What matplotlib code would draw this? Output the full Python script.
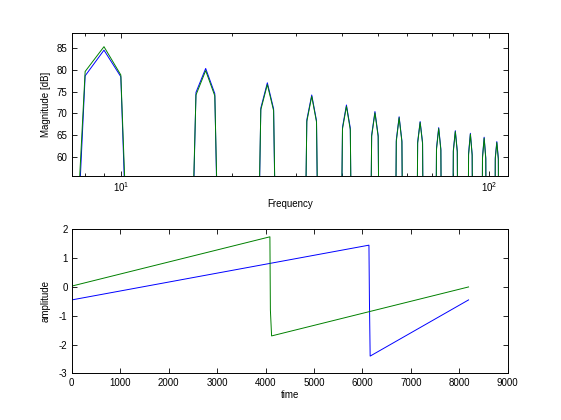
import numpy as np
import matplotlib
matplotlib.use("Agg")
from matplotlib import pyplot as plt

plt.rcParams['font.family'] = ['Liberation Sans', 'DejaVu Sans']
plt.rcParams['font.size'] = 7
plt.rcParams['axes.unicode_minus'] = False
plt.rcParams['mathtext.fontset'] = 'custom'
plt.rcParams['mathtext.rm'] = 'Liberation Sans'

## spectrum: harmonic bins and the dB levels
harmonic_bins = [9, 17, 25, 33, 41, 49, 57, 65, 73, 81, 89, 97, 105]
n_bins = 120

blue_top = [84.5, 80.3, 77.0, 74.2, 71.9, 70.4, 69.2, 68.1, 66.7, 66.0, 65.4, 64.5, 63.5]
blue_left = [78.6, 74.8, 71.2, 68.5, 66.8, 65.0, 63.9, 63.4, 62.0, 61.5, 60.8, 60.0, 59.9]
blue_right = [78.4, 74.5, 71.0, 68.3, 66.6, 64.9, 63.7, 63.3, 61.8, 61.4, 60.6, 59.8, 59.7]
blue_floor = -25.0

green_top = [85.3, 79.8, 76.6, 73.9, 71.6, 70.1, 69.0, 67.9, 66.5, 65.8, 65.2, 64.3, 63.3]
green_left = [79.6, 74.2, 70.8, 68.1, 66.4, 64.7, 63.5, 63.1, 61.6, 61.2, 60.4, 59.6, 59.5]
green_right = [78.8, 74.0, 70.6, 68.0, 66.2, 64.6, 63.4, 63.0, 61.5, 61.1, 60.3, 59.5, 59.4]
green_floor = -15.0

## time signals (sample index, amplitude)
blue_t = [0, 6135, 6145, 6160, 8192]
blue_v = [-0.45, 1.45, -0.45, -2.40, -0.45]
green_t = [0, 4090, 4100, 4125, 8192]
green_v = [0.03, 1.74, -0.80, -1.70, 0.0]

BLUE = (0, 0, 1)
GREEN = (0, 0.5, 0)


def build_spectrum(top, left, right, floor):
    spec = np.full(n_bins, floor)
    for b, t, l, r in zip(harmonic_bins, top, left, right):
        spec[b - 1] = t
        spec[b - 2] = l
        spec[b] = r
    return spec


def style_axes(ax):
    ax.tick_params(which='both', direction='in', top=True, right=True, pad=3)
    ax.tick_params(which='major', length=3.5, width=0.6)
    ax.tick_params(which='minor', length=2, width=0.6)
    for s in ax.spines.values():
        s.set_linewidth(0.7)


freqs = np.arange(1, n_bins + 1)

fig = plt.figure(figsize=(5.61, 4.2), dpi=100)

ax1 = fig.add_axes([0.128, 0.580, 0.777, 0.341])
ax1.plot(freqs, build_spectrum(blue_top, blue_left, blue_right, blue_floor),
         color=BLUE, lw=0.7)
ax1.plot(freqs, build_spectrum(green_top, green_left, green_right, green_floor),
         color=GREEN, lw=0.7)
ax1.set_xscale('log')
ax1.set_xlim(7.36, 112.4)
ax1.set_ylim(55.5, 88.4)
ax1.set_yticks([60, 65, 70, 75, 80, 85])
ax1.set_xlabel('Frequency', labelpad=3)
ax1.set_ylabel('Magnitude [dB]', labelpad=4)
style_axes(ax1)

ax2 = fig.add_axes([0.128, 0.111, 0.777, 0.343])
ax2.plot(blue_t, blue_v, color=BLUE, lw=0.7)
ax2.plot(green_t, green_v, color=GREEN, lw=0.7)
ax2.set_xlim(0, 9000)
ax2.set_ylim(-3, 2)
ax2.set_xticks(range(0, 9001, 1000))
ax2.set_yticks([-3, -2, -1, 0, 1, 2])
ax2.set_xlabel('time', labelpad=2)
ax2.set_ylabel('amplitude', labelpad=6)
style_axes(ax2)

fig.savefig('out.png', dpi=100)
